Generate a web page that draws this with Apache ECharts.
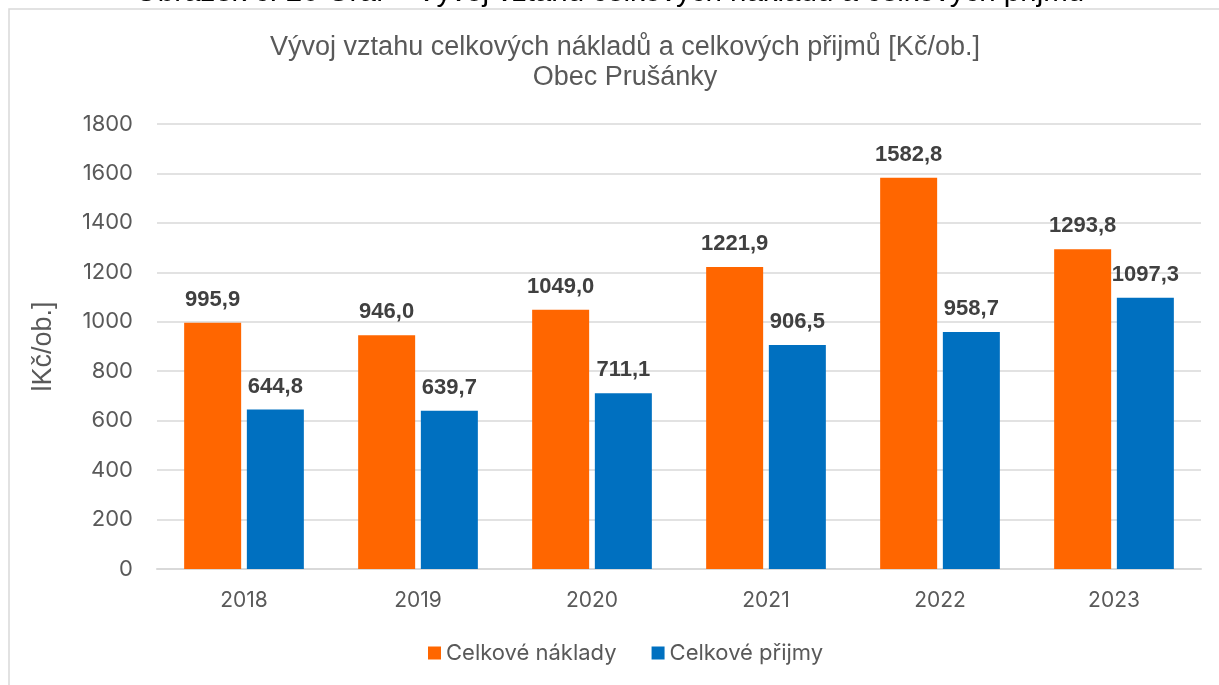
<!DOCTYPE html>
<html>
<head>
<meta charset="utf-8">
<script src="https://cdn.jsdelivr.net/npm/echarts@6/dist/echarts.min.js"></script>
<style>
  html, body { margin: 0; padding: 0; background: #fff; }
  #chart { width: 1219px; height: 685px; }
</style>
</head>
<body>
<div id="chart"></div>
<script>
  // data
  const years = ['2018', '2019', '2020', '2021', '2022', '2023'];
  const naklady = [995.9, 946.0, 1049.0, 1221.9, 1582.8, 1293.8];
  const prijmy = [644.8, 639.7, 711.1, 906.5, 958.7, 1097.3];
  const seriesNames = ['Celkové náklady', 'Celkové přijmy'];

  const chart = echarts.init(document.getElementById('chart'));

  const labelFmt = (p) => p.value.toFixed(1).replace('.', ',');
  const dataLabel = {
    show: true,
    position: 'top',
    distance: 12,
    formatter: labelFmt,
    color: '#404040',
    fontSize: 22,
    fontWeight: 'bold',
    fontFamily: 'Liberation Sans'
  };

  const option = {
    animation: false,
    backgroundColor: '#fff',
    title: {
      text: 'Vývoj vztahu celkových nákladů a celkových přijmů [Kč/ob.]\nObec Prušánky',
      left: 620,
      textAlign: 'center',
      top: 28,
      textStyle: {
        color: '#595959',
        fontSize: 27,
        fontWeight: 'normal',
        fontFamily: 'Liberation Sans',
        lineHeight: 30
      }
    },
    graphic: [
      {
        type: 'rect',
        shape: { x: 9, y: 9, width: 1400, height: 900 },
        style: { fill: 'none', stroke: '#d9d9d9', lineWidth: 1.5 },
        silent: true
      },
      {
        type: 'text',
        left: 'center',
        top: -22,
        style: {
          text: 'Obrázek č. 26 Graf – Vývoj vztahu celkových nákladů a celkových přijmů',
          fill: '#000',
          fontSize: 29.5,
          fontFamily: 'Liberation Sans'
        },
        silent: true
      }
    ],
    legend: {
      bottom: 16,
      left: 423,
      icon: 'rect',
      itemWidth: 13,
      itemHeight: 13,
      itemGap: 35,
      textStyle: { color: '#595959', fontSize: 22, fontFamily: 'Inter' },
      data: seriesNames
    },
    grid: {
      left: 157,
      right: 18,
      top: 124,
      bottom: 116,
      containLabel: false
    },
    xAxis: {
      type: 'category',
      data: years,
      axisLine: { lineStyle: { color: '#d9d9d9', width: 2 } },
      axisTick: { show: false },
      axisLabel: { color: '#595959', fontSize: 21, margin: 21, fontFamily: 'Inter' }
    },
    yAxis: {
      type: 'value',
      min: 0,
      max: 1800,
      interval: 200,
      name: 'lKč/ob.]',
      nameLocation: 'middle',
      nameGap: 100,
      nameRotate: 90,
      nameTextStyle: { color: '#595959', fontSize: 27, fontFamily: 'Liberation Sans' },
      axisLine: { show: false },
      axisTick: { show: false },
      axisLabel: {
        color: '#595959',
        fontSize: 22,
        margin: 24,
        fontFamily: 'Inter',
        formatter: (v) => String(v)
      },
      splitLine: { lineStyle: { color: '#d9d9d9', width: 1.5 } }
    },
    series: [
      {
        name: seriesNames[0],
        type: 'bar',
        data: naklady,
        barWidth: 57,
        barGap: '10%',
        itemStyle: { color: '#ff6600' },
        label: dataLabel
      },
      {
        name: seriesNames[1],
        type: 'bar',
        data: prijmy,
        barWidth: 57,
        barGap: '10%',
        itemStyle: { color: '#0070c0' },
        label: dataLabel
      }
    ]
  };

  chart.setOption(option);
</script>
</body>
</html>
